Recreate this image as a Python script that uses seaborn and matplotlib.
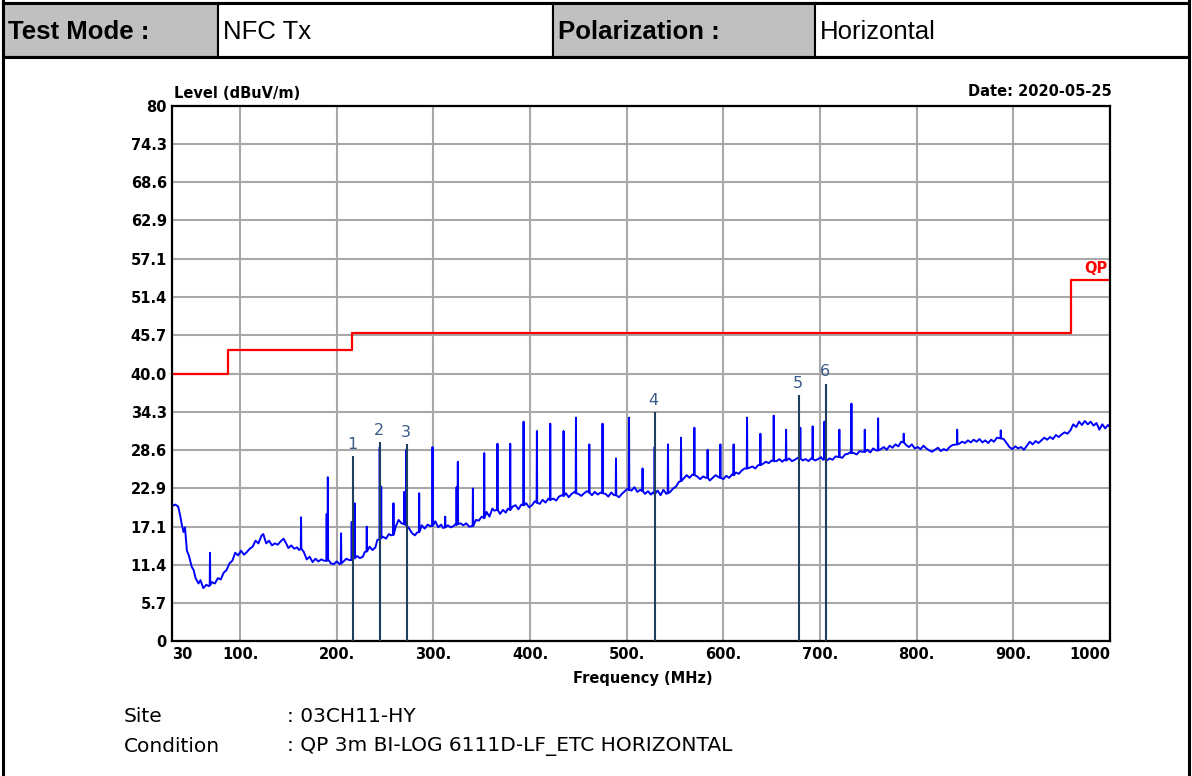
import numpy as np
import pandas as pd
import seaborn as sns
import matplotlib.pyplot as plt
from matplotlib.patches import Rectangle
from matplotlib.lines import Line2D

trace_freq = [30, 33, 36, 38, 40, 41.5, 43, 45, 47, 50, 52, 54, 57, 59, 62, 65, 68, 71, 74, 77,
              80, 83, 86, 89, 92, 95, 98, 101, 104, 107, 110, 113, 116, 119, 122, 124, 127, 130, 133, 136,
              139, 142, 145, 148, 150, 153, 156, 159, 161, 166, 169, 172, 175, 178, 181, 184, 187, 194, 197, 200,
              203, 207, 210, 213, 221, 224, 227, 229, 234, 237, 240, 242, 248, 251, 254, 256, 261, 264, 267, 275,
              278, 281, 283, 288, 291, 294, 297, 302, 305, 308, 310, 315, 318, 321, 323, 328, 331, 334, 337, 344,
              347, 350, 355, 358, 361, 363, 369, 372, 375, 377, 382, 385, 388, 391, 396, 399, 402, 405, 410, 413,
              416, 419, 424, 427, 430, 433, 437, 440, 443, 446, 450, 453, 456, 459, 464, 467, 470, 473, 478, 481,
              484, 487, 492, 495, 498, 501, 505, 508, 511, 514, 519, 522, 525, 527, 532, 535, 538, 541, 545, 548,
              551, 554, 559, 562, 565, 568, 573, 576, 579, 582, 586, 589, 592, 595, 600, 603, 606, 609, 613, 616,
              619, 622, 627, 630, 633, 636, 641, 644, 647, 650, 655, 658, 661, 663, 668, 671, 674, 677, 682, 685,
              688, 691, 695, 698, 701, 703, 707, 710, 713, 716, 723, 726, 729, 731, 735, 738, 741, 744, 749, 752,
              755, 758, 763, 766, 769, 772, 775, 778, 781, 784, 789, 792, 795, 798, 801, 804, 807, 810, 813, 816,
              819, 822, 825, 828, 831, 834, 837, 844, 847, 850, 853, 856, 859, 862, 865, 868, 871, 874, 877, 880,
              883, 890, 893, 896, 899, 902, 905, 908, 911, 914, 917, 920, 923, 926, 929, 932, 935, 938, 941, 944,
              947, 950, 953, 956, 959, 962, 965, 968, 971, 974, 977, 980, 983, 986, 989, 992, 995, 998, 1000]
trace_level = [20.2, 20.4, 20.1, 18.8, 17.2, 16.3, 17.0, 13.5, 12.8, 11.1, 10.6, 9.4, 8.6, 9.1, 7.9, 8.4, 8.2, 8.8, 8.6, 9.4,
               9.2, 10.2, 10.6, 11.6, 12.0, 13.2, 12.8, 13.5, 12.9, 13.3, 13.8, 14.1, 15.0, 14.6, 15.7, 16.0, 14.6, 15.0, 14.3, 14.6,
               14.4, 14.9, 15.3, 14.5, 13.9, 14.3, 13.8, 14.0, 13.6, 13.3, 12.2, 12.6, 11.8, 12.3, 11.9, 12.2, 12.0, 11.6, 11.5, 11.9,
               11.5, 11.9, 12.3, 12.1, 12.7, 12.4, 12.6, 13.3, 14.1, 13.6, 14.0, 15.1, 15.6, 15.3, 16.0, 15.8, 17.1, 18.1, 17.6, 16.8,
               16.1, 15.8, 16.2, 17.3, 16.8, 17.4, 17.2, 17.9, 17.0, 17.4, 16.9, 17.3, 17.0, 17.2, 17.5, 17.6, 17.3, 17.6, 17.1, 18.1,
               18.0, 18.6, 19.3, 18.6, 19.8, 19.5, 19.0, 19.6, 19.2, 19.8, 20.1, 20.3, 19.7, 20.4, 20.6, 20.0, 20.3, 20.9, 20.5, 21.1,
               20.7, 21.3, 21.3, 21.0, 21.6, 21.8, 22.1, 21.5, 22.0, 22.3, 22.0, 21.7, 22.1, 22.4, 21.8, 22.3, 21.9, 22.2, 22.0, 21.6,
               22.2, 21.8, 21.5, 22.0, 22.4, 22.8, 22.5, 23.0, 22.3, 22.6, 22.0, 22.4, 21.9, 22.2, 22.5, 21.8, 22.6, 22.0, 22.3, 22.8,
               23.1, 23.8, 24.3, 24.8, 24.4, 24.9, 24.6, 24.2, 24.6, 24.4, 24.0, 24.4, 24.8, 24.5, 24.2, 24.7, 24.4, 24.9, 25.2, 25.0,
               25.5, 25.8, 25.9, 26.1, 25.8, 26.3, 26.5, 26.8, 26.6, 27.0, 26.9, 27.2, 26.8, 27.1, 27.3, 26.9, 27.1, 27.4, 27.0, 27.2,
               26.9, 27.3, 27.0, 27.2, 27.5, 27.1, 27.0, 27.3, 27.1, 27.6, 27.4, 27.9, 28.0, 28.2, 28.1, 27.9, 28.4, 28.3, 28.6, 28.2,
               28.8, 28.5, 28.7, 29.0, 28.6, 29.2, 28.9, 29.4, 29.1, 29.8, 29.3, 29.0, 29.4, 28.8, 29.0, 28.7, 29.2, 28.8, 28.5, 28.3,
               28.6, 28.9, 28.4, 28.7, 28.5, 29.0, 29.3, 29.5, 29.8, 29.6, 30.0, 29.7, 30.1, 29.8, 30.2, 29.7, 30.0, 29.6, 30.1, 29.8,
               30.4, 30.2, 29.6, 29.0, 28.7, 29.1, 28.8, 29.0, 28.6, 29.2, 29.8, 29.4, 29.9, 29.6, 30.0, 30.4, 30.1, 30.5, 30.2, 30.8,
               30.5, 30.9, 31.2, 31.0, 31.5, 32.4, 32.0, 32.8, 32.3, 32.9, 32.4, 32.8, 32.2, 32.6, 31.6, 32.4, 31.8, 32.3, 32.0]

# narrow emissions on the trace
spike_freq = [68.9, 163.1, 189.6, 190.8, 204.5, 215.5, 218.5, 231.1, 244.5, 246.0, 258.7, 269.8, 272.0,
              285.3, 299.1, 312.2, 324.0, 325.3, 340.9, 352.6, 366.3, 379.5, 393.3, 407.1, 420.9, 434.7,
              447.5, 461.3, 475.0, 488.9, 502.4, 516.4, 528.9, 542.7, 556.2, 570.0, 583.7, 596.9, 610.6,
              624.5, 638.3, 652.1, 664.9, 679.6, 692.4, 704.5, 720.0, 732.5, 746.3, 760.1, 786.6, 841.9, 887.0]
spike_base = [8.4, 13.8, 12.0, 12.2, 11.6, 12.1, 12.4, 13.4, 15.2, 15.4, 15.9, 17.5, 17.3,
              16.3, 17.2, 17.0, 17.4, 17.5, 17.2, 18.4, 19.6, 19.6, 20.3, 20.7, 21.1, 21.7,
              22.1, 22.2, 22.1, 21.8, 22.6, 22.4, 22.0, 22.1, 23.9, 24.8, 24.4, 24.4, 24.8,
              25.8, 26.3, 26.9, 27.0, 27.3, 27.2, 27.2, 27.5, 28.1, 28.3, 28.5, 29.7, 29.4, 30.3]
spike_peak = [13.2, 18.5, 19.0, 24.5, 16.1, 17.8, 20.6, 17.1, 29.0, 23.1, 20.6, 22.3, 28.6,
              22.1, 29.0, 18.6, 23.0, 26.8, 22.8, 28.1, 29.5, 29.5, 32.8, 31.4, 32.5, 31.4,
              33.4, 29.4, 32.5, 27.3, 33.4, 25.8, 29.0, 29.4, 30.4, 31.9, 28.6, 29.4, 29.4,
              33.4, 31.0, 33.7, 31.6, 31.9, 32.1, 32.8, 31.6, 35.5, 31.6, 33.3, 31.0, 31.6, 31.5]

# QP limit (class B, 3 m)
limit_freq = [30, 88, 88, 216, 216, 960, 960, 1000]
limit_level = [40, 40, 43.5, 43.5, 46, 46, 54, 54]

# final QP markers
marker_no = ['1', '2', '3', '4', '5', '6']
marker_freq = [217.3, 244.9, 272.5, 528.9, 678.7, 706.3]
marker_level = [27.7, 29.8, 29.4, 34.2, 36.8, 38.5]

x_ticks = [30, 100, 200, 300, 400, 500, 600, 700, 800, 900, 1000]
x_labels = ['30', '100.', '200.', '300.', '400.', '500.', '600.', '700.', '800.', '900.', '1000']
y_ticks = [0, 5.7, 11.4, 17.1, 22.9, 28.6, 34.3, 40.0, 45.7, 51.4, 57.1, 62.9, 68.6, 74.3, 80]
y_labels = ['0', '5.7', '11.4', '17.1', '22.9', '28.6', '34.3', '40.0', '45.7', '51.4', '57.1',
            '62.9', '68.6', '74.3', '80']

sns.set_style('white')
plt.rcParams['font.family'] = ['Liberation Sans', 'DejaVu Sans']
plt.rcParams['text.color'] = 'black'
plt.rcParams['xtick.color'] = 'black'
plt.rcParams['ytick.color'] = 'black'
plot_font = ['DejaVu Sans']

W, H = 1192, 776
fig = plt.figure(figsize=(W / 100, H / 100), dpi=100)

def fx(px):
    return px / W

def fy(py):
    return 1 - py / H

# header row
cells = [(3, 218, '#C0C0C0', 'Test Mode :', 'bold'),
         (218, 553, 'white', 'NFC Tx', 'normal'),
         (553, 815, '#C0C0C0', 'Polarization :', 'bold'),
         (815, 1189, 'white', 'Horizontal', 'normal')]
for x0, x1, col, txt, wt in cells:
    fig.patches.append(Rectangle((fx(x0), fy(57)), fx(x1 - x0), 54 / H, transform=fig.transFigure,
                                 facecolor=col, edgecolor='black', lw=1.5))
    fig.text(fx(x0 + 5), fy(32), txt, fontsize=18.5, fontweight=wt, va='center', ha='left', color='black')

# outer frame
for xs, ys in [([3, 3], [0, H]), ([1189, 1189], [0, H]), ([3, 1189], [3, 3]), ([3, 1189], [57, 57])]:
    fig.lines.append(Line2D([fx(v) for v in xs], [fy(v) for v in ys], transform=fig.transFigure,
                            color='black', lw=2.2))

ax = fig.add_axes([fx(172.4), fy(641), fx(1110 - 172.4), (641 - 106) / H])

df = pd.DataFrame({'freq': trace_freq, 'level': trace_level})
extra = []
for f, b, p in zip(spike_freq, spike_base, spike_peak):
    extra += [(f - 0.3, b), (f, p), (f + 0.3, b)]
df = pd.concat([df, pd.DataFrame(extra, columns=['freq', 'level'])])
df = df.sort_values('freq', kind='mergesort').reset_index(drop=True)

sns.lineplot(data=df, x='freq', y='level', estimator=None, sort=False, color='#0000FF', lw=1.4, ax=ax)
sns.lineplot(x=limit_freq, y=limit_level, estimator=None, sort=False, color='#FF0000', lw=1.6, ax=ax)

ax.vlines(marker_freq, 0, marker_level, color='#1F3F60', lw=1.5, zorder=4)
for n, f, l in zip(marker_no, marker_freq, marker_level):
    ax.annotate(n, (f, l), xytext=(-1, 3), textcoords='offset points', ha='center', va='bottom',
                fontsize=11.5, color='#3A5A88', family=plot_font)

ax.text(997, 54.6, 'QP', ha='right', va='bottom', color='#FF0000', fontsize=10.5, fontweight='bold',
        family=plot_font)

ax.set_xlim(30, 1000)
ax.set_ylim(0, 80)
ax.set_xticks(x_ticks)
ax.set_xticklabels(x_labels, fontsize=10.5, fontweight='bold', family=plot_font)
ax.set_yticks(y_ticks)
ax.set_yticklabels(y_labels, fontsize=10.5, fontweight='bold', family=plot_font)
ax.get_xticklabels()[0].set_ha('left')
ax.get_xticklabels()[-1].set_ha('right')
ax.tick_params(length=0, pad=4, colors='black')
ax.grid(True, color='#A8A8A8', lw=1.5)
ax.set_axisbelow(True)
for s in ax.spines.values():
    s.set_color('black')
    s.set_linewidth(1.6)
ax.set_xlabel('')
ax.set_ylabel('')

fig.text(fx(174), fy(94), 'Level (dBuV/m)', fontsize=10.5, fontweight='bold', ha='left', va='center',
         family=plot_font)
fig.text(fx(1112), fy(91), 'Date: 2020-05-25', fontsize=10.5, fontweight='bold', ha='right', va='center',
         family=plot_font)
fig.text(fx(643), fy(678), 'Frequency (MHz)', fontsize=10.5, fontweight='bold', ha='center', va='center',
         family=plot_font)

foot = ['DejaVu Sans']
fig.text(fx(124), fy(717), 'Site', fontsize=14.5, family=foot, va='center')
fig.text(fx(287), fy(717), ': 03CH11-HY', fontsize=14.5, family=foot, va='center')
fig.text(fx(124), fy(746), 'Condition', fontsize=14.5, family=foot, va='center')
fig.text(fx(287), fy(746), ': QP 3m BI-LOG 6111D-LF_ETC HORIZONTAL', fontsize=14.5, family=foot, va='center')

fig.savefig('out.png', dpi=100)
